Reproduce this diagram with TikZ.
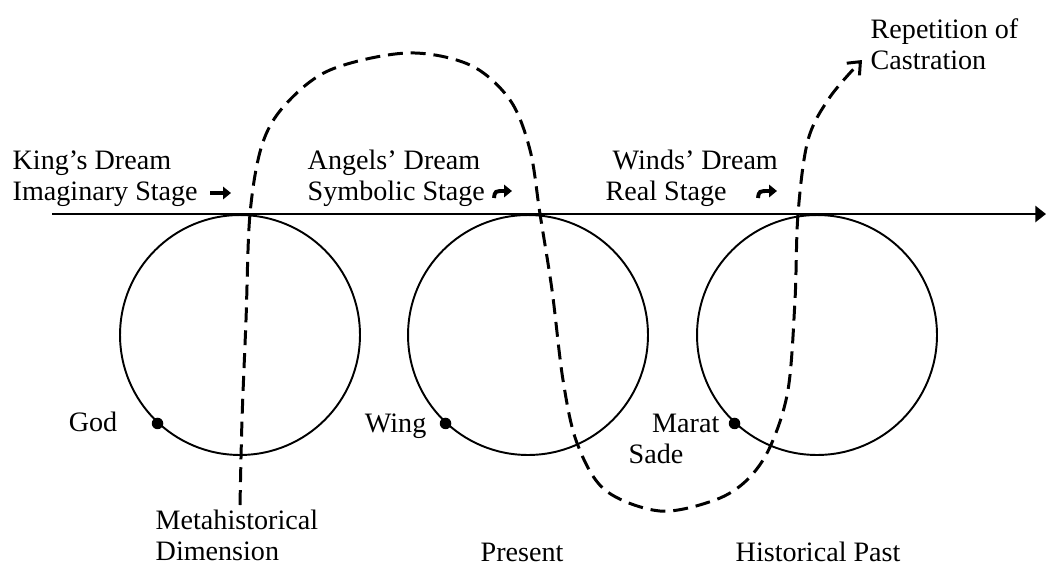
\documentclass[tikz,border=0pt]{standalone}
\usepackage{fontspec}
\setmainfont{Liberation Serif}
\usetikzlibrary{arrows.meta}

\begin{document}
\begin{tikzpicture}[x=0.02cm,y=-0.02cm,line width=0.8pt,>=Stealth,
  lbl/.style={anchor=base west,inner sep=0pt,align=left,font=\fontsize{16}{17.6}\selectfont},
  stagecircle/.style={circle,draw,line width=1.1pt,minimum size=4.8cm,inner sep=0pt},
  dotmark/.style={circle,fill,inner sep=0pt,minimum size=0.23cm},
  dreampath/.style={line width=1.7pt,dash pattern=on 8.5pt off 4.5pt},
  stagearrow/.style={line width=2.2pt,-{Triangle[length=4.5pt,width=7pt]}}]
\useasboundingbox (0,0) rectangle (1047,565);
% time axis
\coordinate (axisstart) at (52,214);
\coordinate (axisend) at (1046,214);
\draw[line width=1.6pt,-{Triangle[length=6pt,width=9pt]}] (axisstart) -- (axisend);
% three stages
\node[stagecircle] (imag) at (240,335) {};
\node[stagecircle] (symb) at (528,335) {};
\node[stagecircle] (real) at (817,335) {};
% points on the circles
\node[dotmark] (god) at (imag.227) {};
\node[dotmark] (wing) at (symb.227) {};
\node[dotmark] (marat) at (real.227) {};
\node[lbl,anchor=base east] (godlbl) at (118,431) {God};
\node[lbl,anchor=base east] (winglbl) at (427,432) {Wing};
\node[lbl,anchor=base east] (maratlbl) at (720,432) {Marat};
\node[lbl] (sadelbl) at (628,463) {Sade};
% stage labels (base = last line)
\node[lbl] (kinglbl) at (12,200) {King's Dream\\Imaginary Stage};
\node[lbl] (angellbl) at (307,200) {Angels' Dream\\Symbolic Stage};
\node[lbl] (windlbl) at (605,200) {\hspace*{4pt}Winds' Dream\\Real Stage};
\draw[stagearrow] (210,193) -- (231,193);
\draw[stagearrow] (494,198) .. controls (495,191) .. (512,191);
\draw[stagearrow] (758,198) .. controls (759,191) .. (777,191);
% bottom labels
\node[lbl] (metalbl) at (155,560) {Metahistorical\\Dimension};
\node[lbl] (preslbl) at (480,561) {Present};
\node[lbl] (histlbl) at (735,561) {Historical Past};
\node[lbl] (castlbl) at (870,69) {Repetition of\\Castration};
% dashed path of the dreams
\coordinate (metatop) at (240,505);
\coordinate (castend) at (862,60);
\draw[dreampath,-{Straight Barb[length=6pt,width=10pt]}] plot[smooth,tension=0.55] coordinates {
  (metatop) (242,420) (246,320) (250,214) (262,145) (285,105) (330,70) (407,53)
  (470,65) (510,100) (530,150) (540,214) (552,290) (563,380) (577,443) (605,490)
  (660,511) (715,500) (747,480) (770,447) (788,390) (795,300) (798,214) (808,140)
  (830,97) (castend)};
\end{tikzpicture}
\end{document}
